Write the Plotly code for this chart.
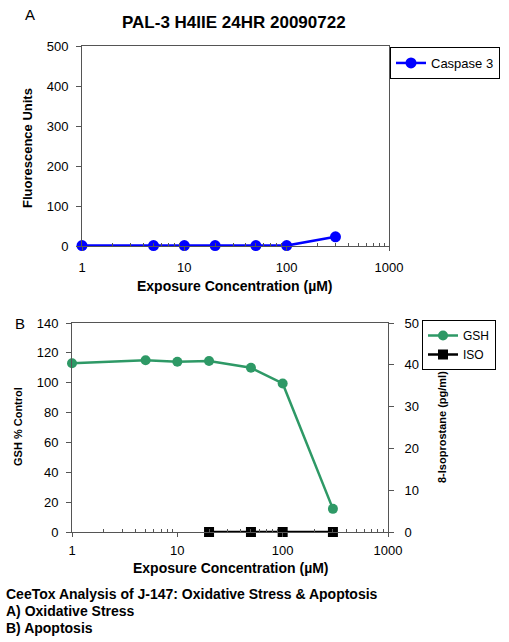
import plotly.graph_objects as go

W, H = 509, 642

# ---- data ----
conc_a = [1, 5, 10, 20, 50, 100, 300]
caspase3 = [1, 1, 1, 1, 1, 1, 23]

conc_b = [1, 5, 10, 20, 50, 100, 300]
gsh = [113, 115, 114, 114.5, 110, 99.5, 15.5]

conc_iso = [20, 50, 100, 300]
iso = [0, 0, 0, 0]

x_ticks = [1, 10, 100, 1000]
x_minor = [2, 3, 4, 5, 6, 7, 8, 9, 20, 30, 40, 50, 60, 70, 80, 90,
           200, 300, 400, 500, 600, 700, 800, 900]

FONT = "Liberation Sans, Arial, sans-serif"


def px_x(p):
    return p / W


def px_y(p):
    return 1 - p / H


fig = go.Figure()

fig.add_trace(go.Scatter(
    x=conc_a, y=caspase3, name="Caspase 3", mode="lines+markers",
    line=dict(color="#0000FF", width=2.5),
    marker=dict(color="#0000FF", size=11),
    xaxis="x", yaxis="y", legend="legend", cliponaxis=False))

fig.add_trace(go.Scatter(
    x=conc_b, y=gsh, name="GSH", mode="lines+markers",
    line=dict(color="#2E9966", width=2.5),
    marker=dict(color="#2E9966", size=10),
    xaxis="x2", yaxis="y2", legend="legend2", cliponaxis=False))

fig.add_trace(go.Scatter(
    x=conc_iso, y=iso, name="ISO", mode="lines+markers",
    line=dict(color="#000000", width=2.5),
    marker=dict(color="#000000", size=10, symbol="square"),
    xaxis="x2", yaxis="y3", legend="legend2", cliponaxis=False))

tickfont = dict(family=FONT, size=13, color="#000000")

common_x = dict(
    type="log", range=[0, 3], tickvals=x_ticks, ticktext=[str(v) for v in x_ticks],
    showgrid=False, zeroline=False, showline=True, linecolor="#555555", linewidth=1,
    mirror=True, ticks="outside", ticklen=4, tickcolor="#555555",
    minor=dict(tickvals=x_minor, ticks="inside", ticklen=3, tickcolor="#555555"),
    tickfont=tickfont, automargin=False,
)

common_y = dict(
    showgrid=False, zeroline=False, showline=True, linecolor="#555555", linewidth=1,
    ticks="outside", ticklen=5, tickcolor="#555555", tickfont=tickfont, automargin=False,
)

fig.update_layout(
    width=W, height=H,
    margin=dict(l=0, r=0, t=0, b=0, autoexpand=False),
    paper_bgcolor="white", plot_bgcolor="white",
    font=dict(family=FONT, color="#000000"),
    xaxis=dict(domain=[px_x(82), px_x(389)], anchor="y", ticklabelstandoff=5, **common_x),
    yaxis=dict(domain=[px_y(246), px_y(46)], anchor="x", range=[0, 500], dtick=100,
               mirror=True, ticklabelstandoff=5, **common_y),
    xaxis2=dict(domain=[px_x(72), px_x(388)], anchor="y2", ticklabelstandoff=2, **common_x),
    yaxis2=dict(domain=[px_y(532), px_y(323)], anchor="x2", range=[0, 140], dtick=20,
                ticklabelstandoff=5, **common_y),
    yaxis3=dict(overlaying="y2", side="right", anchor="x2", range=[0, 50], dtick=10,
                ticklabelstandoff=8, **common_y),
    showlegend=True,
    legend=dict(x=px_x(390), y=px_y(47), xanchor="left", yanchor="top",
                bordercolor="#000000", borderwidth=1, bgcolor="white",
                font=dict(family=FONT, size=13, color="#000000"),
                itemwidth=30, tracegroupgap=0),
    legend2=dict(x=px_x(422), y=px_y(320), xanchor="left", yanchor="top",
                 bordercolor="#000000", borderwidth=1, bgcolor="white",
                 font=dict(family=FONT, size=12, color="#000000"),
                 itemwidth=30, tracegroupgap=0),
)

annos = [
    dict(text="A", x=px_x(30), y=px_y(14), size=15, bold=False, xanchor="center"),
    dict(text="PAL-3 H4IIE 24HR 20090722", x=px_x(234), y=px_y(22), size=17, bold=True, xanchor="center"),
    dict(text="Exposure Concentration (µM)", x=px_x(235), y=px_y(286), size=14, bold=True, xanchor="center"),
    dict(text="B", x=px_x(20), y=px_y(323), size=15, bold=False, xanchor="center"),
    dict(text="Exposure Concentration (µM)", x=px_x(231), y=px_y(568), size=14, bold=True, xanchor="center"),
    dict(text="CeeTox Analysis of J-147: Oxidative Stress &amp; Apoptosis", x=px_x(4), y=px_y(594), size=14, bold=True, xanchor="left"),
    dict(text="A) Oxidative Stress", x=px_x(4), y=px_y(611), size=14, bold=True, xanchor="left"),
    dict(text="B) Apoptosis", x=px_x(4), y=px_y(628), size=14, bold=True, xanchor="left"),
]
for a in annos:
    txt = f"<b>{a['text']}</b>" if a["bold"] else a["text"]
    fig.add_annotation(text=txt, x=a["x"], y=a["y"], xref="paper", yref="paper",
                       xanchor=a["xanchor"], yanchor="middle", showarrow=False,
                       font=dict(family=FONT, size=a["size"], color="#000000"))

vt = [
    dict(text="Fluorescence Units", x=27, y=148, size=13),
    dict(text="GSH % Control", x=18, y=427, size=11),
    dict(text="8-Isoprostane (pg/ml)", x=442, y=427, size=11),
]
for a in vt:
    fig.add_annotation(text=f"<b>{a['text']}</b>", x=px_x(a["x"]), y=px_y(a["y"]),
                       xref="paper", yref="paper", xanchor="center", yanchor="middle",
                       textangle=-90, showarrow=False,
                       font=dict(family=FONT, size=a["size"], color="#000000"))

fig.write_html("out.html", config={"displayModeBar": False},
               post_script="document.body.style.margin='0';")
